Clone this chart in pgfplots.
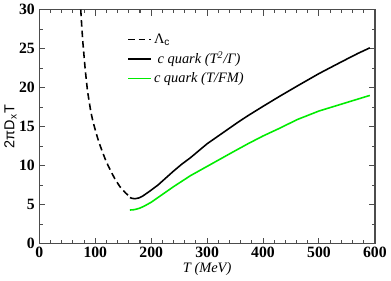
\documentclass[border=0pt]{standalone}
\usepackage{pgfplots}
\pgfplotsset{compat=1.18}
\usepackage{fontspec}
\setmainfont{Liberation Serif}
\setsansfont{Liberation Sans}
\definecolor{lgreen}{RGB}{0,235,0}
\begin{document}
\begin{tikzpicture}
\begin{axis}[
  scale only axis,
  width=256pt, height=178.5pt,
  xmin=0, xmax=600, ymin=0, ymax=30,
  xtick={0,100,...,600}, ytick={0,5,...,30},
  xticklabels={0,100,200,300,400,500,600},
  yticklabels={0,5,10,15,20,25,30},
  minor x tick num=4, minor y tick num=1,
  tick align=inside,
  major tick length=4.5pt, minor tick length=2.5pt,
  axis line style={line width=1pt, black!70},
  every tick/.style={line width=0.8pt, black!70},
  ticklabel style={font=\fontsize{12}{13}\selectfont\bfseries},
  xticklabel style={yshift=1pt},
  xlabel={\textit{T (MeV)}},
  ylabel={\sffamily 2πD\textsubscript{x}T},
  label style={font=\fontsize{11}{12}\selectfont},
  xlabel style={yshift=3pt},
  ylabel style={yshift=-5pt},
  legend style={draw=none, fill=none, at={(axis cs:150,27.6)}, anchor=north west,
    font=\fontsize{11}{12}\selectfont, row sep=1pt},
  legend cell align=left,
]
\addplot[black, line width=1.2pt, dash pattern=on 5pt off 3pt] coordinates {
(74,30) (76,27.6) (78,25.6) (82,22.3) (86,19.6) (92,16.9) (96,15.6) (101,14.3) (106,13.1) (112,11.9) (119,10.6) (127,9.4) (135,8.3) (144,7.3) (154,6.5) (163,5.9)};
\addlegendentry{Λ\textsubscript{\sffamily c}}
\addplot[black, line width=1.2pt] coordinates {
(162,5.9) (166,5.8) (171,5.75) (178,5.85) (185,6.1) (197,6.7) (212,7.5) (226,8.4) (240,9.3) (255,10.2) (270,11.0) (285,11.9) (300,12.8) (320,13.8) (340,14.8) (356,15.6) (373,16.4) (400,17.6) (430,18.9) (461,20.2) (500,21.8) (540,23.3) (570,24.4) (591,25.1)};
\addlegendentry{\textit{ c quark (T\textsuperscript{2}/Γ)}}
\addplot[lgreen, line width=1.2pt] coordinates {
(162,4.3) (170,4.35) (180,4.55) (190,4.9) (200,5.3) (212,5.9) (226,6.6) (240,7.3) (255,8.0) (270,8.7) (285,9.3) (300,9.9) (320,10.7) (345,11.7) (373,12.8) (400,13.8) (430,14.8) (461,15.9) (500,17.0) (550,18.1) (591,19.0)};
\addlegendentry{\textit{c quark (T/FM)}}
\end{axis}
\end{tikzpicture}
\end{document}
